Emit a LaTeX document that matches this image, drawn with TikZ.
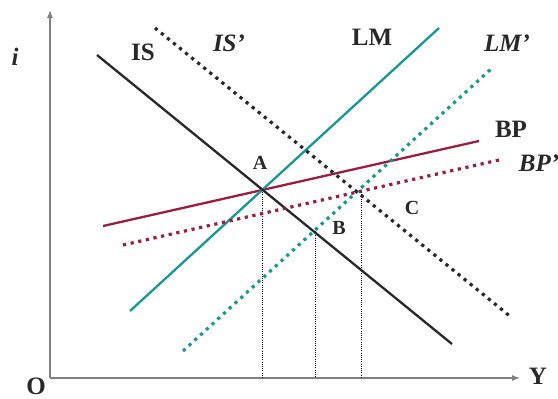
\documentclass[tikz,border=0pt]{standalone}
\usepackage{fontspec}
\setmainfont{Liberation Serif}
\usetikzlibrary{arrows.meta}

\definecolor{lmteal}{RGB}{25,150,150}
\definecolor{bpred}{RGB}{155,30,65}
\definecolor{txtgray}{RGB}{40,40,40}

\begin{document}
\begin{tikzpicture}[x=1pt, y=-1pt,
  curve/.style={line width=2.3pt},
  shifted/.style={line width=3.2pt, dash pattern=on 3.2pt off 4.6pt},
  drop/.style={line width=0.6pt, dash pattern=on 1pt off 1.2pt},
  lab/.style={text=txtgray, font=\fontsize{25}{25}\selectfont\bfseries, inner sep=0pt},
  pt/.style={text=txtgray, font=\fontsize{20}{20}\selectfont\bfseries, inner sep=0pt}]
  \useasboundingbox (0,0) rectangle (558,399);
  % Axes
  \coordinate (O) at (50,378);
  \coordinate (itop) at (50,10);
  \coordinate (yend) at (520,378);
  \draw[gray, line width=1.1pt, -{Latex[length=8pt, width=6pt]}] (O) -- (itop);
  \draw[gray, line width=1.1pt, -{Latex[length=8pt, width=6pt]}] (O) -- (yend);
  \node[lab] (ilab) at (15,57) {\itshape i};
  \node[lab] (olab) at (36,386) {O};
  \node[lab] (ylab) at (538,376) {Y};
  % Curve end points
  \coordinate (is1) at (97,55);   \coordinate (is2) at (452,344);
  \coordinate (isp1) at (155,28); \coordinate (isp2) at (511,317);
  \coordinate (lm1) at (130,311); \coordinate (lm2) at (439,28);
  \coordinate (lmp1) at (183,351); \coordinate (lmp2) at (492,68);
  \coordinate (bp1) at (103,226); \coordinate (bp2) at (479,141);
  \coordinate (bpp1) at (123,245); \coordinate (bpp2) at (499,160);
  % Equilibria
  \coordinate (A) at (262,190);
  \coordinate (B) at (315,231);
  \coordinate (C) at (361,192);
  % Drop lines
  \draw[drop] (A) -- (A |- O);
  \draw[drop] (B) -- (B |- O);
  \draw[drop] (C) -- (C |- O);
  % Solid curves
  \draw[curve, bpred] (bp1) -- (bp2);
  \draw[curve, lmteal] (lm1) -- (lm2);
  \draw[curve, txtgray] (is1) -- (is2);
  % Shifted curves
  \draw[shifted, bpred] (bpp1) -- (bpp2);
  \draw[shifted, lmteal] (lmp1) -- (lmp2);
  \draw[shifted, txtgray] (isp1) -- (isp2);
  % Labels
  \node[lab] (islab) at (143,52) {IS};
  \node[lab] (isplab) at (229,43) {\itshape IS'};
  \node[lab] (lmlab) at (372,37) {LM};
  \node[lab] (lmplab) at (507,43) {\itshape LM'};
  \node[lab] (bplab) at (511,129) {BP};
  \node[lab] (bpplab) at (539,163) {\itshape BP'};
  \node[pt] (alab) at (260,163) {A};
  \node[pt] (blab) at (339,228) {B};
  \node[pt] (clab) at (412,208) {C};
\end{tikzpicture}
\end{document}
